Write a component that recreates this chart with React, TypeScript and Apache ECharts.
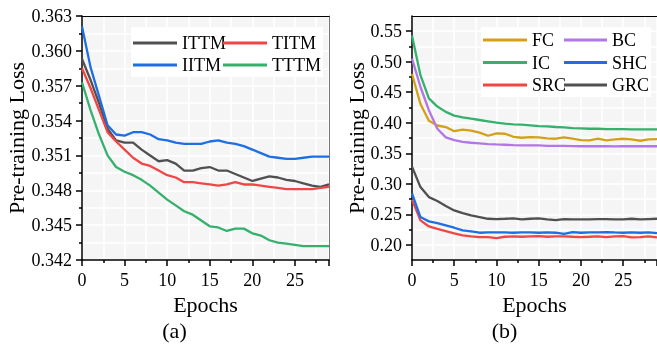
import React, { useEffect, useRef } from "react";
import * as echarts from "echarts";

const epochs = [0, 1, 2, 3, 4, 5, 6, 7, 8, 9, 10, 11, 12, 13, 14, 15, 16, 17, 18, 19, 20, 21, 22, 23, 24, 25, 26, 27, 28, 29];

// (a)
const ittm = [0.3593, 0.3575, 0.3555, 0.3533, 0.3523, 0.3521, 0.3521, 0.3515, 0.351, 0.3505, 0.3506, 0.3503, 0.3497, 0.3497, 0.3499, 0.35, 0.3497, 0.3497, 0.3494, 0.3491, 0.3488, 0.349, 0.3492, 0.3491, 0.3489, 0.3488, 0.3486, 0.3484, 0.3483, 0.3485];
const titm = [0.3585, 0.3568, 0.3549, 0.353, 0.3522, 0.3515, 0.3508, 0.3503, 0.3501, 0.3497, 0.3493, 0.3491, 0.3487, 0.3487, 0.3486, 0.3485, 0.3484, 0.3485, 0.3487, 0.3485, 0.3485, 0.3484, 0.3483, 0.3482, 0.3481, 0.3481, 0.3481, 0.3481, 0.3482, 0.3483];
const iitm = [0.3621, 0.3586, 0.3561, 0.3536, 0.3528, 0.3527, 0.353, 0.353, 0.3528, 0.3524, 0.3523, 0.3521, 0.352, 0.352, 0.352, 0.3522, 0.3523, 0.3521, 0.352, 0.3518, 0.3515, 0.3512, 0.3509, 0.3508, 0.3507, 0.3507, 0.3508, 0.3509, 0.3509, 0.3509];
const tttm = [0.3573, 0.3549, 0.3528, 0.351, 0.35, 0.3496, 0.3493, 0.3489, 0.3484, 0.3478, 0.3472, 0.3467, 0.3462, 0.3459, 0.3454, 0.3449, 0.3448, 0.3445, 0.3447, 0.3447, 0.3443, 0.3441, 0.3437, 0.3435, 0.3434, 0.3433, 0.3432, 0.3432, 0.3432, 0.3432];

// (b)
const fc = [0.48, 0.4307, 0.4034, 0.3955, 0.393, 0.3862, 0.3886, 0.387, 0.3837, 0.3787, 0.3826, 0.382, 0.377, 0.3754, 0.3765, 0.376, 0.3743, 0.3738, 0.376, 0.3738, 0.3716, 0.371, 0.3738, 0.371, 0.3727, 0.3738, 0.3727, 0.3705, 0.3727, 0.3732];
const ic = [0.543, 0.478, 0.44, 0.4265, 0.4178, 0.4117, 0.409, 0.4067, 0.4045, 0.4023, 0.4001, 0.3985, 0.3974, 0.3968, 0.3957, 0.3946, 0.3941, 0.393, 0.3924, 0.3913, 0.3908, 0.3902, 0.3902, 0.3897, 0.3897, 0.3897, 0.389, 0.389, 0.389, 0.389];
const src = [0.274, 0.2399, 0.23, 0.2262, 0.2224, 0.2186, 0.2153, 0.2137, 0.2126, 0.2126, 0.2109, 0.2131, 0.2137, 0.2131, 0.2137, 0.2142, 0.2131, 0.2137, 0.2137, 0.2131, 0.2126, 0.2131, 0.2137, 0.2126, 0.2137, 0.2142, 0.212, 0.2126, 0.2137, 0.212];
const bc = [0.505, 0.459, 0.4205, 0.3902, 0.376, 0.3716, 0.3688, 0.3672, 0.3661, 0.365, 0.3644, 0.3639, 0.3633, 0.3628, 0.3628, 0.3628, 0.3622, 0.3622, 0.3622, 0.3617, 0.3615, 0.3615, 0.3617, 0.3615, 0.3612, 0.3615, 0.3615, 0.3615, 0.3615, 0.3615];
const shc = [0.284, 0.2454, 0.2383, 0.2355, 0.2317, 0.2279, 0.2235, 0.2219, 0.2197, 0.2202, 0.2202, 0.2202, 0.2197, 0.2202, 0.2202, 0.2197, 0.2202, 0.2197, 0.218, 0.2208, 0.2197, 0.2202, 0.2202, 0.2208, 0.2202, 0.2197, 0.2202, 0.2197, 0.2202, 0.2191];
const grc = [0.328, 0.2945, 0.2781, 0.2716, 0.2634, 0.2563, 0.2519, 0.2481, 0.2454, 0.2426, 0.2421, 0.2426, 0.2432, 0.2415, 0.2426, 0.2432, 0.2415, 0.2404, 0.2421, 0.2415, 0.2415, 0.2415, 0.2421, 0.2421, 0.2415, 0.2415, 0.2426, 0.2415, 0.2421, 0.2426];

const xMajor = [0, 5, 10, 15, 20, 25];
const rightMajor = [0.2, 0.25, 0.3, 0.35, 0.4, 0.45, 0.5, 0.55];
const rightMinor = [0.225, 0.275, 0.325, 0.375, 0.425, 0.475, 0.525];

const FONT = "Liberation Serif";
const C = {
  gray: "#505050",
  red: "#f04646",
  blue: "#1d6fe3",
  green: "#35b06d",
  gold: "#d4a017",
  purple: "#b276e6",
};

const pairs = (arr: number[]) => epochs.map((e, i) => [e, arr[i]]);

const lineSeries = (name: string, data: number[], color: string, xi: number, yi: number) => ({
  name,
  type: "line",
  xAxisIndex: xi,
  yAxisIndex: yi,
  data: pairs(data),
  symbol: "none",
  showSymbol: false,
  lineStyle: { color, width: 2.3 },
  itemStyle: { color },
  z: 5,
});

const white = () => ({ show: true, lineStyle: { color: "#ffffff", width: 1.5 } });
const blackLine = () => ({ show: true, onZero: false, lineStyle: { color: "#000", width: 1.5 } });
const tickMajor = () => ({ show: true, inside: false, length: 6, lineStyle: { color: "#000", width: 1.5 } });
const tickMinor = () => ({ show: true, splitNumber: 2, length: 3, lineStyle: { color: "#000", width: 1.5 } });
const labelStyle = () => ({ fontFamily: FONT, fontSize: 18, color: "#000" });
const nameStyle = () => ({ fontFamily: FONT, fontSize: 22, color: "#000" });

const xMain = (gi: number) => ({
  gridIndex: gi,
  type: "value",
  min: 0,
  max: 29,
  interval: 5,
  position: "bottom",
  axisLine: blackLine(),
  axisTick: tickMajor(),
  minorTick: tickMinor(),
  splitLine: white(),
  minorSplitLine: white(),
  axisLabel: { ...labelStyle(), margin: 11, customValues: xMajor },
  name: "Epochs",
  nameLocation: "middle",
  nameGap: 30,
  nameTextStyle: nameStyle(),
});

const xTop = (gi: number) => ({
  gridIndex: gi,
  type: "value",
  min: 0,
  max: 29,
  position: "top",
  axisLine: { show: true, onZero: false, lineStyle: { color: "#000", width: 1.2 } },
  axisTick: { show: false },
  axisLabel: { show: false },
  splitLine: { show: false },
});

const legendBase = () => ({
  orient: "vertical",
  padding: 0,
  icon: "rect",
  itemWidth: 44,
  itemHeight: 3,
  textStyle: { ...labelStyle(), lineHeight: 22 },
  selectedMode: false,
});

export default function App() {
  const ref = useRef<HTMLDivElement>(null);
  useEffect(() => {
    if (!ref.current) return;
    const chart = echarts.init(ref.current, null, { renderer: "svg" });
    const option: any = {
      animation: false,
      grid: [
        { left: 82, top: 16, width: 247, height: 244, show: true, backgroundColor: "#f5f5f5", borderWidth: 0 },
        { left: 412, top: 16, width: 247, height: 244, show: true, backgroundColor: "#f5f5f5", borderWidth: 0 },
      ],
      xAxis: [xMain(0), xTop(0), xMain(1), xTop(1)],
      yAxis: [
        {
          gridIndex: 0,
          type: "value",
          min: 0.342,
          max: 0.363,
          interval: 0.003,
          axisLine: blackLine(),
          axisTick: tickMajor(),
          minorTick: tickMinor(),
          splitLine: white(),
          minorSplitLine: white(),
          axisLabel: { ...labelStyle(), margin: 10, formatter: (v: number) => v.toFixed(3) },
          name: "Pre-training Loss",
          nameLocation: "middle",
          nameGap: 55,
          nameTextStyle: nameStyle(),
        },
        {
          gridIndex: 0,
          type: "value",
          min: 0.342,
          max: 0.363,
          position: "right",
          axisLine: { show: true, onZero: false, lineStyle: { color: "#777", width: 1 } },
          axisTick: { show: false },
          axisLabel: { show: false },
          splitLine: { show: false },
        },
        {
          gridIndex: 1,
          type: "value",
          min: 0.175,
          max: 0.575,
          interval: 0.025,
          axisLine: blackLine(),
          axisTick: { show: false },
          axisLabel: { show: false },
          splitLine: white(),
          name: "Pre-training Loss",
          nameLocation: "middle",
          nameGap: 45,
          nameTextStyle: nameStyle(),
        },
        {
          gridIndex: 1,
          type: "value",
          min: 0.175,
          max: 0.575,
          position: "left",
          axisLine: { show: false, onZero: false },
          axisTick: { ...tickMajor(), customValues: rightMajor },
          axisLabel: { ...labelStyle(), margin: 10, customValues: rightMajor, formatter: (v: number) => v.toFixed(2) },
          splitLine: { show: false },
        },
        {
          gridIndex: 1,
          type: "value",
          min: 0.175,
          max: 0.575,
          position: "left",
          axisLine: { show: false, onZero: false },
          axisTick: { show: true, length: 3, customValues: rightMinor, lineStyle: { color: "#000", width: 1.5 } },
          axisLabel: { show: false },
          splitLine: { show: false },
        },
      ],
      legend: [
        { ...legendBase(), data: ["ITTM", "IITM"], left: 133, top: 32, itemGap: 0 },
        { ...legendBase(), data: ["TITM", "TTTM"], left: 223, top: 32, itemGap: 0 },
        { ...legendBase(), data: ["FC", "IC", "SRC"], left: 483, top: 29, itemGap: 0.5 },
        { ...legendBase(), data: ["BC", "SHC", "GRC"], left: 564, top: 29, itemGap: 0.5, itemWidth: 43 },
      ],
      graphic: [
        { type: "rect", z: 3, shape: { x: 131, y: 27, width: 192, height: 50 }, style: { fill: "#ffffff" } },
        { type: "rect", z: 3, shape: { x: 481, y: 27, width: 170, height: 70 }, style: { fill: "#ffffff" } },
        { type: "text", x: 174.5, y: 330, style: { text: "(a)", fontFamily: FONT, fontSize: 22, fill: "#000", textAlign: "center", textVerticalAlign: "middle" } },
        { type: "text", x: 504.5, y: 330, style: { text: "(b)", fontFamily: FONT, fontSize: 22, fill: "#000", textAlign: "center", textVerticalAlign: "middle" } },
      ],
      series: [
        lineSeries("ITTM", ittm, C.gray, 0, 0),
        lineSeries("TITM", titm, C.red, 0, 0),
        lineSeries("IITM", iitm, C.blue, 0, 0),
        lineSeries("TTTM", tttm, C.green, 0, 0),
        lineSeries("FC", fc, C.gold, 2, 2),
        lineSeries("IC", ic, C.green, 2, 2),
        lineSeries("SRC", src, C.red, 2, 2),
        lineSeries("BC", bc, C.purple, 2, 2),
        lineSeries("SHC", shc, C.blue, 2, 2),
        lineSeries("GRC", grc, C.gray, 2, 2),
      ],
    };
    chart.setOption(option);
    return () => chart.dispose();
  }, []);
  return <div ref={ref} style={{ position: "fixed", left: 0, top: 0, width: 657, height: 346 }} />;
}
